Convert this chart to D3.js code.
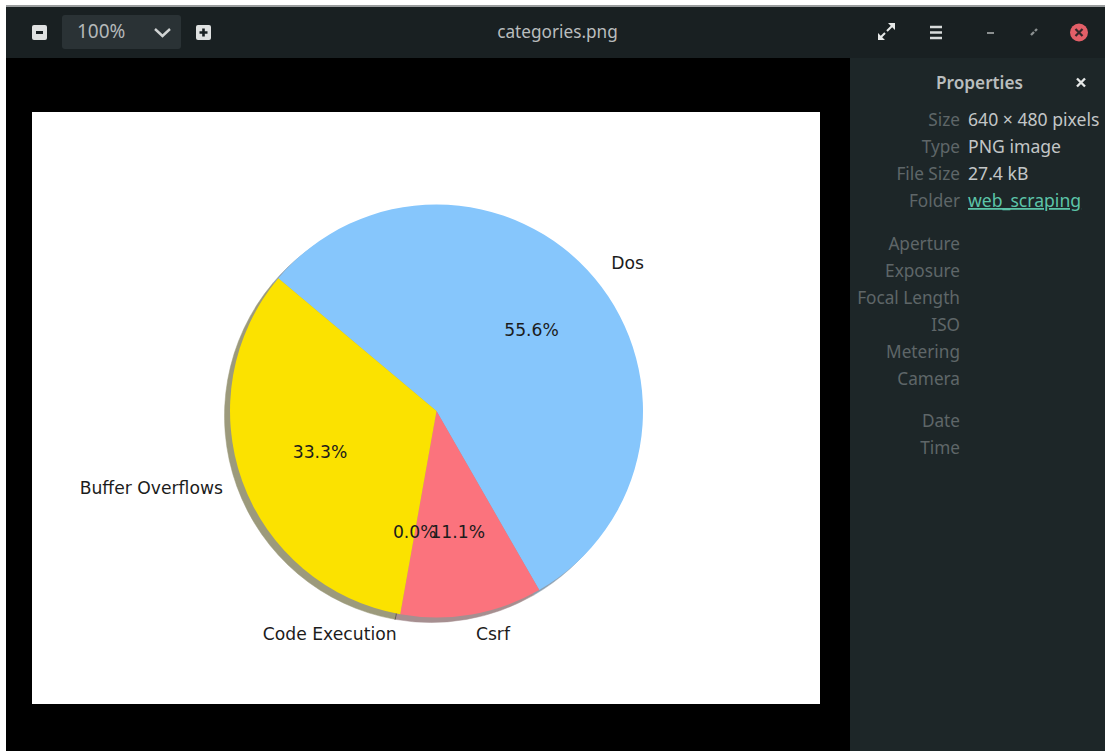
<!DOCTYPE html>
<html>
<head>
<meta charset="utf-8">
<style>
html,body{margin:0;padding:0;background:#fff;overflow:hidden}
svg{display:block}
</style>
<script src="https://cdnjs.cloudflare.com/ajax/libs/d3/7.8.5/d3.min.js"></script>
</head>
<body>
<svg id="view" width="1105" height="751"></svg>
<script>
// Attack categories and their share of entries, in percent
const categories = ["Dos", "Csrf", "Code Execution", "Buffer Overflows"];
const shares = [55.6, 11.1, 0.0, 33.3];
const sliceColors = ["#86c6fc", "#fb737d", "#8a8a6a", "#fbe200"];
const shadowColors = ["#8d9fae", "#a68f90", "#4d4d45", "#9c9a7c"];

// Image viewer side panel
const propertyNames = ["Size", "Type", "File Size", "Folder", "Aperture", "Exposure", "Focal Length", "ISO", "Metering", "Camera", "Date", "Time"];
const propertyRows = [120, 147, 174, 201, 243.5, 270.5, 297.5, 324.5, 351.5, 378.5, 420.5, 447.5];
const propertyValues = ["640 × 480 pixels", "PNG image", "27.4 kB", "web_scraping"];

const W = 1105, H = 751;
const uiFont = "'Noto Sans', sans-serif";
const plotFont = "'DejaVu Sans', sans-serif";
const svg = d3.select("#view");

// Window frame
svg.append("rect").attr("x", 6).attr("y", 58).attr("width", W - 6).attr("height", H - 58).attr("fill", "#000");
svg.append("rect").attr("x", 6).attr("y", 5).attr("width", W - 6).attr("height", 2).attr("fill", "#9a9d9e");
svg.append("rect").attr("x", 6).attr("y", 7).attr("width", W - 6).attr("height", 51).attr("fill", "#192022");
svg.append("rect").attr("x", 850).attr("y", 58).attr("width", W - 850).attr("height", H - 58).attr("fill", "#1d2628");

// Toolbar
const bar = svg.append("g");
bar.append("rect").attr("x", 32).attr("y", 25).attr("width", 15).attr("height", 15).attr("rx", 2).attr("fill", "#dfe1e1");
bar.append("rect").attr("x", 36).attr("y", 31).attr("width", 7).attr("height", 3).attr("fill", "#192022");
bar.append("rect").attr("x", 62).attr("y", 15).attr("width", 119).attr("height", 34).attr("rx", 3).attr("fill", "#2a3235");
bar.append("text").attr("x", 77).attr("y", 38).attr("font-family", uiFont).attr("font-size", 19).attr("fill", "#b4b8b9").text("100%");
bar.append("path").attr("d", "M155 29l7.500 7l7.500-7").attr("fill", "none").attr("stroke", "#d0d3d3").attr("stroke-width", 2.4);
bar.append("rect").attr("x", 196).attr("y", 25).attr("width", 15).attr("height", 15).attr("rx", 2).attr("fill", "#dfe1e1");
bar.append("path").attr("d", "M203.500 28.500v8M199.500 32.500h8").attr("stroke", "#192022").attr("stroke-width", 2.6);
bar.append("text").attr("x", 557.500).attr("y", 38).attr("text-anchor", "middle").attr("font-family", uiFont).attr("font-size", 17.200).attr("fill", "#b9bdbe").text("categories.png");

// Window controls
bar.append("path").attr("d", "M879 39l6-6M887 31l6-6").attr("stroke", "#e6e8e8").attr("stroke-width", 2);
bar.append("path").attr("d", "M878 33v7h7zM895 23h-7l7 7z").attr("fill", "#e6e8e8");
bar.append("path").attr("d", "M930 27h12M930 32.500h12M930 38h12").attr("stroke", "#d8dbdb").attr("stroke-width", 2.4);
bar.append("path").attr("d", "M987 33h7").attr("stroke", "#8b8f90").attr("stroke-width", 2);
bar.append("path").attr("d", "M1031 35l3-3M1035 31l2-2").attr("stroke", "#8b8f90").attr("stroke-width", 2.4);
bar.append("circle").attr("cx", 1079).attr("cy", 32.500).attr("r", 9).attr("fill", "#e35f68");
bar.append("path").attr("d", "M1075.500 29l7 7M1082.500 29l-7 7").attr("stroke", "#33272a").attr("stroke-width", 2.2);

// Properties panel
const panel = svg.append("g").attr("font-family", uiFont).attr("font-size", 17.200);
panel.append("text").attr("x", 979.500).attr("y", 89).attr("text-anchor", "middle").attr("font-weight", 600).attr("fill", "#b9bdbe").text("Properties");
panel.append("path").attr("d", "M1077 78.500l8 8M1085 78.500l-8 8").attr("stroke", "#e6e8e8").attr("stroke-width", 2.4);
panel.selectAll("text.name").data(propertyNames).join("text").attr("class", "name")
  .attr("x", 960).attr("y", (d, i) => propertyRows[i] + 6).attr("text-anchor", "end")
  .attr("fill", "#5f6668").text(d => d);
panel.selectAll("text.value").data(propertyValues).join("text").attr("class", "value")
  .attr("x", 968).attr("y", (d, i) => propertyRows[i] + 6)
  .attr("font-size", 17.600)
  .attr("fill", (d, i) => i === 3 ? "#5cc4a8" : "#c3c6c7")
  .attr("text-decoration", (d, i) => i === 3 ? "underline" : null).text(d => d);

// Plot canvas
svg.append("rect").attr("x", 32).attr("y", 112).attr("width", 788).attr("height", 592).attr("fill", "#fff");

// Pie, drawn clockwise from the Dos wedge's leading edge
const cx = 436.5, cy = 411, radius = 206.5;
const pie = d3.pie().sort(null).startAngle(-50 * Math.PI / 180).endAngle(310 * Math.PI / 180);
const arcs = pie(shares);
const wedge = d3.arc().innerRadius(0).outerRadius(radius);
const ringAt = r => d3.arc().innerRadius(r).outerRadius(r);
const pctRing = ringAt(radius * 0.6);
const labelRing = ringAt(radius * 1.1);

const plot = svg.append("g").attr("transform", `translate(${cx},${cy})`);

// Drop shadow sits under the wedges, down and to the left
plot.append("g").attr("transform", "translate(-5.500,5)")
  .selectAll("path").data(arcs).join("path")
  .attr("d", wedge)
  .attr("fill", (d, i) => shadowColors[i])
  .attr("stroke", (d, i) => shadowColors[i])
  .attr("stroke-width", (d, i) => d.value === 0 ? 2 : 0.5);

plot.append("g").selectAll("path").data(arcs).join("path")
  .attr("d", wedge)
  .attr("fill", (d, i) => sliceColors[i]);

// Percentages inside the wedges
plot.append("g").selectAll("text").data(arcs).join("text")
  .attr("transform", d => `translate(${pctRing.centroid(d)})`)
  .attr("text-anchor", "middle").attr("dy", "0.28em")
  .attr("font-family", plotFont).attr("font-size", 17.2).attr("fill", "#1c1c1c")
  .text(d => d3.format(".1f")(d.value) + "%");

// Category names outside the rim; the anchor follows the side of the pie,
// and names below the centre hang slightly lower
plot.append("g").selectAll("text").data(arcs).join("text")
  .each(function(d, i) {
    const [x, y] = labelRing.centroid(d);
    d3.select(this).attr("x", x + (x >= 0 ? 0.5 : 0)).attr("y", y)
      .attr("dy", y < 0 ? "0.2em" : "0.33em")
      .attr("text-anchor", x >= 0 ? "start" : "end");
  })
  .attr("font-family", plotFont).attr("font-size", 17.2).attr("fill", "#1c1c1c")
  .text((d, i) => categories[i]);
</script>
</body>
</html>
